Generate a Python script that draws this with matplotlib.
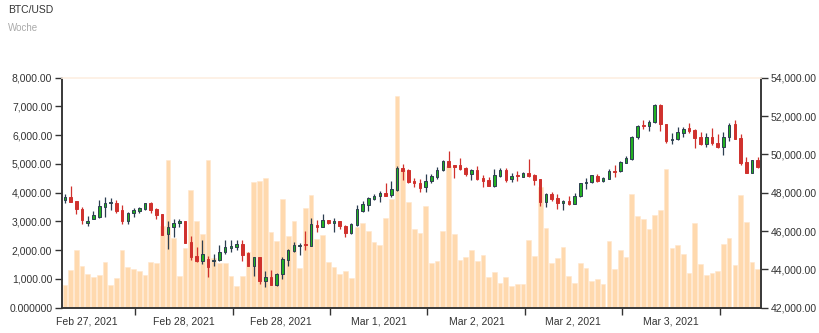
import matplotlib
matplotlib.use("Agg")
import matplotlib.pyplot as plt
from matplotlib.ticker import FuncFormatter, FixedLocator

plt.rcParams["font.family"] = ["Liberation Sans", "DejaVu Sans"]

# volume per candle (left axis)
volumes = [
    800, 1322, 2006, 1449, 1159, 1067, 1136, 1577, 800, 1032, 2006, 1403, 1356,
    1287, 1148, 1600, 1565, 2840, 5136, 2411, 1101, 2087, 4093, 3026, 2562,
    5125, 1739, 1542, 1565, 1101, 754, 1101, 1948, 4371, 4406, 4522, 2643, 2319,
    3791, 2493, 3014, 1380, 3455, 3919, 2377, 2516, 1588, 1414, 1159, 1275,
    1020, 2794, 2933, 2667, 2284, 2180, 3107, 3791, 7362, 4788, 3675, 2748,
    2585, 3525, 1554, 1635, 2678, 4916, 2562, 1670, 1774, 2006, 1623, 1832,
    1067, 1252, 870, 1067, 742, 812, 812, 2342, 1797, 4185, 2759, 1542, 1727,
    2098, 1101, 870, 1542, 1368, 939, 997, 812, 2319, 1345, 2006,
    1774, 3965, 3188, 3084, 2725, 3212, 3397, 4823, 2087, 2180, 1867, 1217,
    2933, 1530, 1148, 1206, 1275, 2226, 2435, 1484, 3919, 2980, 1588, 1333,
]

# candles (right axis)
opens = [
    47634, 47790, 47566, 47150, 46410, 46645, 46750, 47270, 47446, 47480, 47097, 46540, 46925,
    47060, 47133, 47480, 47133, 46888, 45845, 46195, 46420, 46505, 45440, 44700, 44440,
    44540, 44440, 44490, 44890, 45100, 45180, 45300, 44870, 44190, 44630, 43410, 43620, 43170,
    43740, 44490, 44960, 45230, 45330, 45240, 46330, 46220, 46570, 46400, 46540, 46260,
    45910, 46310, 47060, 47360, 47690, 47830, 48000, 47880, 48140, 49290, 49180, 48620,
    48520, 48280, 48610, 48830, 49180, 49650, 49430, 49430, 49270, 48970, 49180, 48750,
    48660, 48360, 48870, 49180, 48700, 48900, 48830, 49040, 48940, 48690, 47530, 47930, 47700,
    47440, 47560, 47410, 47840, 48490, 48540, 48870, 48630, 48710, 49150, 49130,
    49565, 49760, 50920, 51530, 51480, 51670, 52570, 51580, 50760, 50780, 51130, 51360,
    51270, 50890, 50520, 50920, 50610, 50360, 50920, 51560, 50830, 49580, 49010, 49700,
]
highs = [
    47916, 48349, 47566, 47238, 46800, 47060, 47620, 47790, 47700, 47620, 47360, 46990, 47190,
    47270, 47480, 47530, 47186, 46888, 46500, 46620, 46620, 46540, 45740, 45150, 45530,
    44710, 44800, 45270, 45530, 45530, 45530, 45530, 44920, 44660, 44630, 43930, 43960, 43790,
    44630, 45060, 45440, 45400, 46000, 46670, 46550, 46890, 46600, 46660, 46540, 46310,
    46430, 47360, 47570, 47760, 47930, 48100, 48490, 48610, 49390, 49500, 49220, 48790,
    48690, 48960, 48960, 49320, 49700, 50190, 49430, 49790, 49360, 49220, 49390, 48920,
    48830, 49220, 49270, 49270, 49040, 49110, 49100, 49740, 48970, 48730, 47960, 48050, 47930,
    47620, 47830, 47960, 48520, 48760, 48940, 48960, 48830, 49220, 49440, 49670,
    49930, 50970, 51530, 51790, 51790, 52610, 52630, 51580, 51100, 51440, 51410, 51620,
    51300, 51180, 51100, 51360, 51060, 51180, 51650, 51790, 51040, 49840, 49690, 49880,
]
lows = [
    47478, 47530, 46888, 46380, 46247, 46630, 46700, 46750, 47100, 46925, 46380, 46380, 46750,
    46960, 47100, 46925, 46620, 45790, 45050, 45700, 46190, 45350, 44490, 44380, 44260,
    43580, 44170, 44440, 44800, 44890, 45010, 44420, 44160, 43650, 43220, 43060, 43170, 43130,
    43500, 44180, 44920, 44750, 45010, 45200, 45960, 46190, 46360, 45960, 46090, 45700,
    45870, 46260, 47010, 47060, 47620, 47530, 47830, 47790, 48100, 48640, 48530, 48300,
    48050, 48020, 48490, 48700, 49150, 49360, 48750, 49180, 48870, 48660, 48660, 48320,
    48360, 48310, 48830, 48570, 48560, 48630, 48800, 48830, 48400, 47300, 47270, 47580, 47160,
    47100, 47340, 47390, 47790, 48170, 48520, 48570, 48570, 48700, 48800, 49100,
    49530, 49720, 50780, 51300, 51220, 51650, 51230, 50610, 50540, 50750, 50920, 51130,
    50310, 50490, 50400, 50490, 50350, 49960, 50710, 50780, 49440, 49010, 49010, 49270,
]
closes = [
    47790, 47530, 47133, 46575, 46500, 46820, 47306, 47446, 47515, 47060, 46540, 46925, 47100,
    47186, 47446, 47097, 46836, 45808, 46195, 46435, 46520, 45390, 44660, 44440, 44800,
    44100, 44490, 44890, 45150, 45235, 45320, 44760, 44190, 44630, 43410, 43620, 43170, 43760,
    44560, 45010, 45270, 45270, 45250, 46370, 46220, 46570, 46400, 46540, 46260, 45910,
    46350, 47130, 47410, 47700, 47830, 48000, 47840, 48180, 49290, 49150, 48570, 48490,
    48260, 48610, 48870, 49180, 49650, 49360, 49360, 49250, 48970, 49180, 48700, 48620,
    48360, 48920, 49180, 48660, 48890, 48870, 49040, 48870, 48660, 47530, 47930, 47650, 47440,
    47580, 47410, 47840, 48490, 48570, 48920, 48610, 48750, 49130, 49060, 49580,
    49790, 50920, 51500, 51480, 51700, 52570, 51560, 50710, 50800, 51150, 51320, 51230,
    50870, 50520, 50920, 50570, 50360, 50920, 51530, 50800, 49530, 49040, 49690, 49360,
]

tick_pos = [12.3, 29.35, 46.3, 63.3, 80.4, 97.3, 114.4]
tick_labels = ["Feb 27, 2021", "Feb 28, 2021", "Feb 28, 2021", "Mar 1, 2021",
               "Mar 2, 2021", "Mar 2, 2021", "Mar 3, 2021"]

GREEN = "#22b022"
RED = "#d0312d"
DARK = "#2c3e50"
AXIS = "#333333"

x = list(range(len(volumes)))

fig = plt.figure(figsize=(8.2, 3.33), dpi=100)
ax = fig.add_axes([0.0756, 0.076, 0.852, 0.6907])

ax.bar(x, volumes, width=0.82, color="#ffd9ae", edgecolor="#ffe6cc", linewidth=0.4)
ax.set_xlim(-0.5, len(x) - 0.5)
ax.set_ylim(0, 8000)
ax.set_yticks(range(0, 8001, 1000))


def vol_fmt(v, pos):
    if v == 0:
        return "0.000000"
    return "{:,.2f}".format(v)


ax.yaxis.set_major_formatter(FuncFormatter(vol_fmt))

ax2 = ax.twinx()
ax2.set_ylim(42000, 54000)
ax2.set_yticks(range(42000, 54001, 2000))
ax2.yaxis.set_major_formatter(FuncFormatter(lambda v, p: "{:,.2f}".format(v)))

# candlesticks
for i in x:
    o, h, l, c = opens[i], highs[i], lows[i], closes[i]
    up = c >= o
    wick_col = DARK if up else RED
    ax2.vlines(i, l, h, color=wick_col, linewidth=0.9, zorder=2)
    body = max(abs(c - o), 35)
    ax2.bar(i, body, bottom=min(o, c), width=0.45,
            color=GREEN if up else RED,
            edgecolor=DARK if up else RED, linewidth=0.7, zorder=3)

# x axis: tick marks at day boundaries, labels between them
ax.xaxis.set_major_locator(FixedLocator(tick_pos))
ax.set_xticklabels([""] * len(tick_pos))
ax.xaxis.set_minor_locator(FixedLocator([t - 8.5 for t in tick_pos]))
ax.set_xticklabels(tick_labels, minor=True)
ax.tick_params(axis="x", which="minor", length=0, pad=6)
ax.tick_params(axis="x", which="major", length=5, width=1, color=AXIS)

for a in (ax, ax2):
    a.tick_params(axis="both", which="both", labelsize=7.5, labelcolor=AXIS)
    a.tick_params(axis="y", length=5, width=1, color=AXIS, pad=2)
    for side in ("left", "right", "bottom"):
        a.spines[side].set_color(AXIS)
        a.spines[side].set_linewidth(1.1)
    a.spines["top"].set_color("#fdf1e6")
    a.spines["top"].set_linewidth(1.2)

fig.text(0.0098, 0.97, "BTC/USD", fontsize=7.5, color="#333333", va="center")
fig.text(0.0098, 0.915, "Woche", fontsize=7, color="#aaaaaa", va="center")

fig.savefig("out.png", dpi=100)
